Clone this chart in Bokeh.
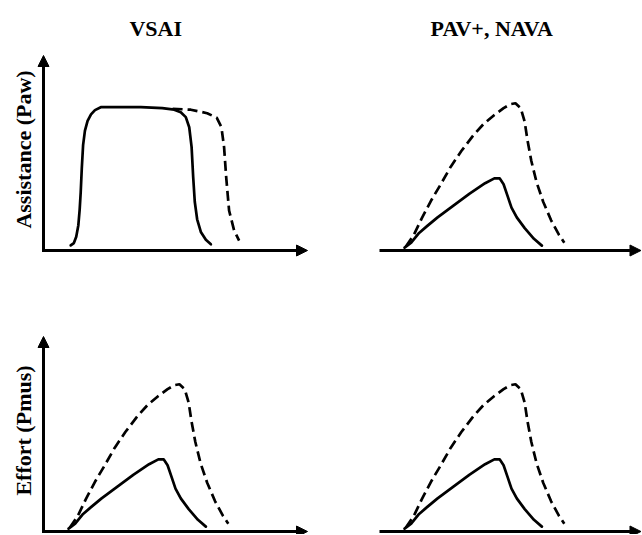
import math
from bokeh.plotting import figure
from bokeh.models import Arrow, NormalHead, Label, Range1d
from bokeh.layouts import gridplot
from bokeh.embed import file_html
from bokeh.resources import INLINE

# ---- data (schematic; axes 0..100 in both directions) ----
column_titles = ["VSAI", "PAV+, NAVA"]
row_labels = ["Assistance (Paw)", "Effort (Pmus)"]

# VSAI assistance: pressure-support plateau
vsai_solid_x = [10.3, 11.5, 12.4, 13.2, 13.7, 14.1, 14.5, 15.0, 15.7, 16.7, 18.0, 19.5, 21.7,
                29.3, 36.9, 45.0, 49.5, 52.0, 53.9, 55.2, 56.1, 56.7, 57.3, 58.2, 59.6, 61.5, 63.4]
vsai_solid_y = [2.6, 3.8, 7.0, 13.0, 21.0, 30.0, 42.0, 54.0, 61.5, 66.5, 69.8, 72.0, 73.5,
                73.5, 73.5, 73.0, 72.2, 70.9, 68.4, 63.2, 53.0, 37.6, 25.0, 16.0, 9.5, 5.5, 3.2]
vsai_dashed_x = [48.9, 55.8, 62.0, 65.6, 67.4, 68.4, 69.2, 70.3, 72.2, 74.1]
vsai_dashed_y = [72.7, 72.2, 70.4, 68.1, 63.2, 53.0, 37.6, 20.5, 10.3, 5.1]

# proportional shapes (PAV+/NAVA assistance, and effort in both modes)
prop_solid_x = [9.5, 12.0, 15.0, 18.0, 22.0, 28.0, 34.0, 40.0, 43.5, 45.5, 47.0, 48.5,
                50.0, 52.0, 55.0, 58.5, 61.5]
prop_solid_y = [1.5, 4.0, 9.0, 12.5, 17.0, 23.0, 29.0, 34.5, 37.0, 37.0, 34.0, 28.0,
                22.0, 17.0, 11.5, 6.0, 2.5]
prop_dashed_x = [10.0, 13.0, 16.0, 19.5, 23.0, 27.0, 31.0, 35.5, 39.5, 43.5, 47.0, 49.5,
                 51.5, 53.5, 55.0, 56.0, 57.5, 59.5, 62.0, 65.0, 68.0, 70.0]
prop_dashed_y = [2.0, 8.0, 16.5, 25.5, 33.5, 43.0, 51.0, 59.0, 65.0, 69.5, 73.0, 75.0,
                 75.5, 73.0, 66.0, 57.0, 46.0, 35.0, 25.0, 15.5, 8.0, 4.0]

FONT = "Liberation Serif"
FS = "22px"
LW = 2.7
AXW = 3
DASH = "10 5"

# layout in pixels: scale of the 0..100 axis box, and where the origin sits in each figure
SX, SY = 2.64, 1.95


def make_panel(width, height, ox, oy, solid, dashed, yaxis, title=None, ylabel=None):
    # ox: pixels from figure left to origin; oy: pixels from figure bottom to origin
    xr = Range1d(-ox / SX, (width - ox) / SX)
    yr = Range1d(-oy / SY, (height - oy) / SY)
    p = figure(width=width, height=height, output_backend="svg", toolbar_location=None,
               x_axis_type=None, y_axis_type=None, x_range=xr, y_range=yr,
               min_border=0, min_border_left=0, min_border_right=0,
               min_border_top=0, min_border_bottom=0)
    p.outline_line_color = None
    p.grid.visible = False
    p.background_fill_color = "white"
    p.border_fill_color = "white"
    p.line(solid[0], solid[1], line_color="black", line_width=LW, line_join="round", line_cap="round")
    p.line(dashed[0], dashed[1], line_color="black", line_width=LW, line_dash=DASH)
    x_tip = min(100, xr.end - 0.2)
    p.add_layout(Arrow(end=NormalHead(size=11, fill_color="black", line_color="black", line_width=1),
                       x_start=0, y_start=0, x_end=x_tip, y_end=0,
                       line_width=AXW, line_color="black"))
    if yaxis:
        p.add_layout(Arrow(end=NormalHead(size=11, fill_color="black", line_color="black", line_width=1),
                           x_start=0, y_start=-0.75, x_end=0, y_end=100,
                           line_width=AXW, line_color="black"))
    if title:
        p.add_layout(Label(x=42.5, y=113.8, text=title, text_align="center",
                           text_baseline="alphabetic", text_font=FONT, text_font_size=FS,
                           text_font_style="bold", text_color="black"))
    if ylabel:
        p.add_layout(Label(x=-7.6, y=51.8, text=ylabel, text_align="center",
                           text_baseline="alphabetic", angle=math.pi / 2,
                           text_font=FONT, text_font_size=FS,
                           text_font_style="bold", text_color="black"))
    return p


p1 = make_panel(327, 290, 43, 40, (vsai_solid_x, vsai_solid_y),
                (vsai_dashed_x, vsai_dashed_y), True, column_titles[0], row_labels[0])
p2 = make_panel(314, 290, 52, 40, (prop_solid_x, prop_solid_y),
                (prop_dashed_x, prop_dashed_y), False, column_titles[1], None)
p3 = make_panel(327, 244, 43, 3, (prop_solid_x, prop_solid_y),
                (prop_dashed_x, prop_dashed_y), True, None, row_labels[1])
p4 = make_panel(314, 244, 52, 3, (prop_solid_x, prop_solid_y),
                (prop_dashed_x, prop_dashed_y), False, None, None)

grid = gridplot([[p1, p2], [p3, p4]], toolbar_location=None)

open("out.html", "w").write(file_html(grid, INLINE))
